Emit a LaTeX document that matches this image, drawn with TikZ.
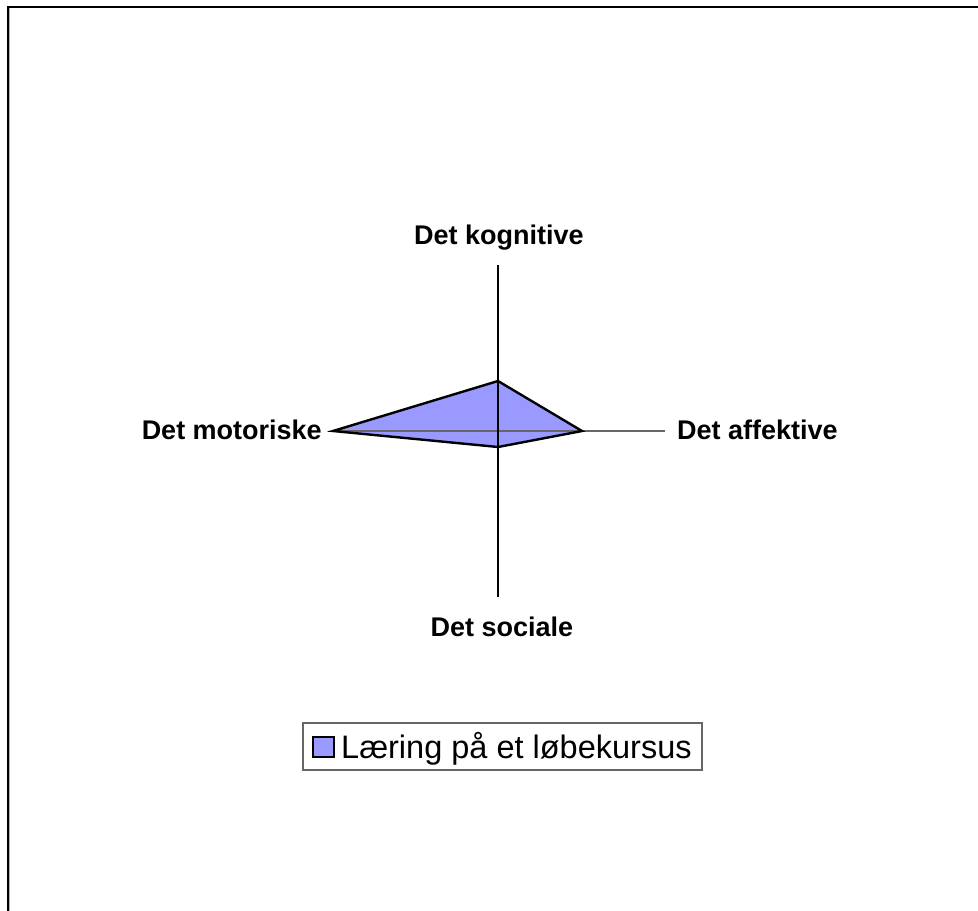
\documentclass[tikz,border=0pt]{standalone}
\usepackage{fontspec}
\setmainfont{Liberation Sans}
\begin{document}
\begin{tikzpicture}[x=1pt,y=-1pt,
  axislbl/.style={inner sep=0pt,font=\fontsize{27}{30}\selectfont\bfseries},
  axisv/.style={line width=1.1pt,black},
  axish/.style={line width=1.1pt,black!60},
  series/.style={fill={rgb,255:red,153;green,153;blue,255}},
  seriesline/.style={line width=2.4pt,black,line join=miter},
  legbox/.style={draw=black!60,line width=1.3pt}]
\useasboundingbox (0,0) rectangle (978,911);
\fill[white] (0,0) rectangle (978,911);
% frame (cut at right and bottom)
\draw[black!30,line width=1pt] (9.5,8) -- (9.5,911);
\draw[black,line width=2pt] (8,911) -- (8,6.5) -- (978,6.5);
% axis end points
\coordinate (c) at (498,431);
\coordinate (atop) at (498,265);
\coordinate (abot) at (498,597);
\coordinate (aleft) at (332,431);
\coordinate (aright) at (665,431);
% data points
\coordinate (pm) at (333,431);
\coordinate (pk) at (498,381);
\coordinate (pa) at (582,431);
\coordinate (ps) at (498,447);
\fill[series] (pm) -- (pk) -- (pa) -- (ps) -- cycle;
\draw[axish] (aleft) -- (aright);
\draw[axisv] (atop) -- (abot);
\draw[seriesline] (pm) -- (pk) -- (pa) -- (ps) -- cycle;
% labels
\node[axislbl,anchor=base] (lk) at (499,244) {Det kognitive};
\node[axislbl,anchor=base] (ls) at (502,636) {Det sociale};
\node[axislbl,anchor=base east] (lm) at (322,439) {Det motoriske};
\node[axislbl,anchor=base west] (la) at (677,439) {Det affektive};
% legend
\draw[legbox] (303,723) rectangle (702,770);
\draw[series,draw=black,line width=2pt] (313,737) rectangle (334,757);
\node[inner sep=0pt,anchor=base west,font=\fontsize{32.5}{35}\selectfont] (leg) at (341,758) {Læring på et løbekursus};
\end{tikzpicture}
\end{document}
